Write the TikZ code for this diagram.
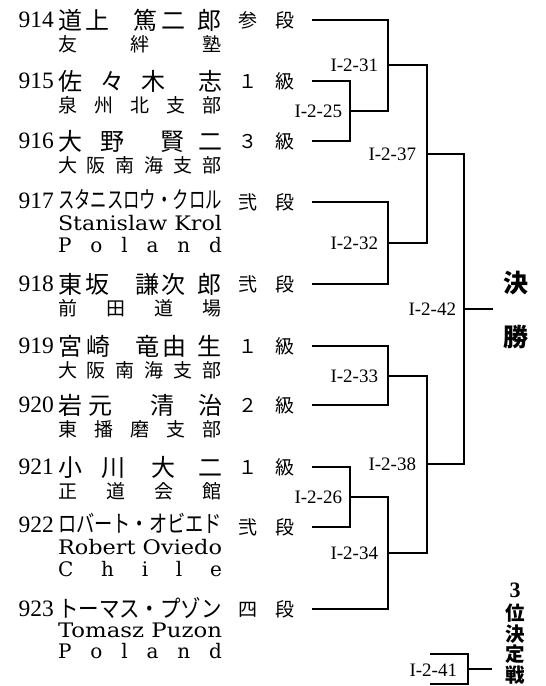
\documentclass[tikz,border=0pt]{standalone}
\usepackage{fontspec}
\usepackage{graphicx}
\setmainfont{Liberation Serif}
\newfontfamily\jp{Noto Sans CJK JP}
\newfontfamily\lat{DejaVu Serif}
\tikzset{
  every node/.style={inner sep=0pt, outer sep=0pt},
  num/.style={anchor=base east, font=\fontsize{23.5}{23.5}\selectfont},
  nmch/.style={anchor=base, font=\jp\fontsize{24}{24}\selectfont},
  subjp/.style={anchor=base west, font=\jp\fontsize{19}{19}\selectfont},
  sublat/.style={anchor=base west, font=\lat\fontsize{20}{20}\selectfont},
  kana/.style={anchor=base west, font=\jp\fontsize{23.5}{23.5}\selectfont},
  rank/.style={anchor=base, font=\jp\fontsize{19}{19}\selectfont},
  lbl/.style={anchor=base east, font=\fontsize{19}{19}\selectfont},
  ttl/.style={anchor=base, font=\jp\bfseries\fontsize{25}{25}\selectfont},
  ttls/.style={anchor=base, font=\jp\bfseries\fontsize{19.5}{19.5}\selectfont},
  br/.style={line width=1.1pt},
}
\newcommand\spreadbox[1]{\makebox[164pt][l]{#1}}
\newcommand\fitbox[1]{\resizebox{164pt}{\height}{#1}}
\begin{document}
\begin{tikzpicture}[x=1pt,y=-1pt]
\useasboundingbox (0,0) rectangle (546,686);

% ---- numbers ----
\node[num] (n914) at (54,27.9) {914};
\node[num] (n915) at (54,88.9) {915};
\node[num] (n916) at (54,148.9) {916};
\node[num] (n917) at (54,208.9) {917};
\node[num] (n918) at (54,291.9) {918};
\node[num] (n919) at (54,353.9) {919};
\node[num] (n920) at (54,412.9) {920};
\node[num] (n921) at (54,474.9) {921};
\node[num] (n922) at (54,532.9) {922};
\node[num] (n923) at (54,616.9) {923};

% ---- names (kanji) ----
\foreach \x/\c [count=\i] in {70/道,97/上,145/篤,173/二,209/郎}
  \node[nmch] (a914-\i) at (\x,29.1) {\c};
\foreach \x/\c [count=\i] in {70/佐,112/々,153/木,210/志}
  \node[nmch] (a915-\i) at (\x,90.1) {\c};
\foreach \x/\c [count=\i] in {70/大,112/野,172/賢,210/二}
  \node[nmch] (a916-\i) at (\x,150.1) {\c};
\foreach \x/\c [count=\i] in {70/東,97/坂,147/謙,173/次,209/郎}
  \node[nmch] (a918-\i) at (\x,293.1) {\c};
\foreach \x/\c [count=\i] in {70/宮,98/崎,147/竜,174/由,209/生}
  \node[nmch] (a919-\i) at (\x,355.1) {\c};
\foreach \x/\c [count=\i] in {70/岩,100/元,162/清,210/治}
  \node[nmch] (a920-\i) at (\x,414.1) {\c};
\foreach \x/\c [count=\i] in {70/小,113/川,163/大,210/二}
  \node[nmch] (a921-\i) at (\x,476.1) {\c};

% ---- names (katakana) ----
\node[kana] (a917) at (58,208.9) {\fitbox{スタニスロウ・クロル}};
\node[kana] (a922) at (58,532.9) {\fitbox{ロバート・オビエド}};
\node[kana] (a923) at (58,617.9) {\fitbox{トーマス・プゾン}};

% ---- sub lines ----
\node[subjp] (s914) at (58,51.2) {\spreadbox{友\hfill 絆\hfill 塾}};
\node[subjp] (s915) at (58,112.2) {\spreadbox{泉\hfill 州\hfill 北\hfill 支\hfill 部}};
\node[subjp] (s916) at (58,172.2) {\spreadbox{大\hfill 阪\hfill 南\hfill 海\hfill 支\hfill 部}};
\node[sublat] (s917a) at (58,230.3) {\fitbox{Stanislaw Krol}};
\node[sublat] (s917b) at (58,252.3) {\spreadbox{P\hfill o\hfill l\hfill a\hfill n\hfill d}};
\node[subjp] (s918) at (58,315.2) {\spreadbox{前\hfill 田\hfill 道\hfill 場}};
\node[subjp] (s919) at (58,377.2) {\spreadbox{大\hfill 阪\hfill 南\hfill 海\hfill 支\hfill 部}};
\node[subjp] (s920) at (58,436.2) {\spreadbox{東\hfill 播\hfill 磨\hfill 支\hfill 部}};
\node[subjp] (s921) at (58,498.2) {\spreadbox{正\hfill 道\hfill 会\hfill 館}};
\node[sublat] (s922a) at (58,554.3) {\fitbox{Robert Oviedo}};
\node[sublat] (s922b) at (58,576.3) {\spreadbox{C\hfill h\hfill i\hfill l\hfill e}};
\node[sublat] (s923a) at (58,637.3) {\fitbox{Tomasz Puzon}};
\node[sublat] (s923b) at (58,658.3) {\spreadbox{P\hfill o\hfill l\hfill a\hfill n\hfill d}};

% ---- ranks ----
\foreach \y/\a/\b [count=\i] in {20/参/段,81/１/級,141/３/級,202/弐/段,284/弐/段,346/１/級,405/２/級,467/１/級,527/弐/段,609/四/段}{
  \node[rank] (r\i a) at (248,\y+7.2) {\a};
  \node[rank] (r\i b) at (285,\y+7.2) {\b};
}

% ---- bracket coordinates ----
\coordinate (e914) at (312,20);
\coordinate (e915) at (312,81);
\coordinate (e916) at (312,141);
\coordinate (e917) at (312,202);
\coordinate (e918) at (312,284);
\coordinate (e919) at (312,346);
\coordinate (e920) at (312,405);
\coordinate (e921) at (312,467);
\coordinate (e922) at (312,527);
\coordinate (e923) at (312,609);
\coordinate (m25) at (350,111);
\coordinate (m31) at (388,65);
\coordinate (m32) at (388,243);
\coordinate (m33) at (388,376);
\coordinate (m26) at (350,497);
\coordinate (m34) at (388,553);
\coordinate (m37) at (427,154);
\coordinate (m38) at (427,464);
\coordinate (m42) at (464,309);
\coordinate (fin) at (493,309);
\coordinate (t1) at (430,654);
\coordinate (t2) at (430,684);
\coordinate (m41) at (468,669);
\coordinate (f3) at (492,669);

\draw[br] (e915) -| (m25) |- (e916);
\draw[br] (e914) -| (m31) |- (m25);
\draw[br] (e917) -| (m32) |- (e918);
\draw[br] (m31) -| (m37) |- (m32);
\draw[br] (e919) -| (m33) |- (e920);
\draw[br] (e921) -| (m26) |- (e922);
\draw[br] (m26) -| (m34) |- (e923);
\draw[br] (m33) -| (m38) |- (m34);
\draw[br] (m37) -| (m42) |- (m38);
\draw[br] (m42) -- (fin);
\draw[br] (t1) -| (m41) |- (t2);
\draw[br] (m41) -- (f3);

% ---- match labels ----
\node[lbl] (l31) at (378,71.3) {I-2-31};
\node[lbl] (l25) at (342,117.3) {I-2-25};
\node[lbl] (l37) at (416,160.3) {I-2-37};
\node[lbl] (l32) at (378,249.3) {I-2-32};
\node[lbl] (l42) at (456,315.3) {I-2-42};
\node[lbl] (l33) at (378,382.3) {I-2-33};
\node[lbl] (l38) at (416,470.3) {I-2-38};
\node[lbl] (l26) at (342,503.3) {I-2-26};
\node[lbl] (l34) at (378,559.3) {I-2-34};
\node[lbl] (l41) at (457,676.3) {I-2-41};

% ---- titles ----
\node[ttl] (k1) at (516,292.5) {決};
\node[ttl] (k2) at (516,346.5) {勝};
\node[anchor=base, font=\bfseries\fontsize{22}{22}\selectfont] (p0) at (515,597) {3};
\node[ttls] (p1) at (515,620.5) {位};
\node[ttls] (p2) at (515,641) {決};
\node[ttls] (p3) at (515,661.5) {定};
\node[ttls] (p4) at (515,682) {戦};
\end{tikzpicture}
\end{document}
